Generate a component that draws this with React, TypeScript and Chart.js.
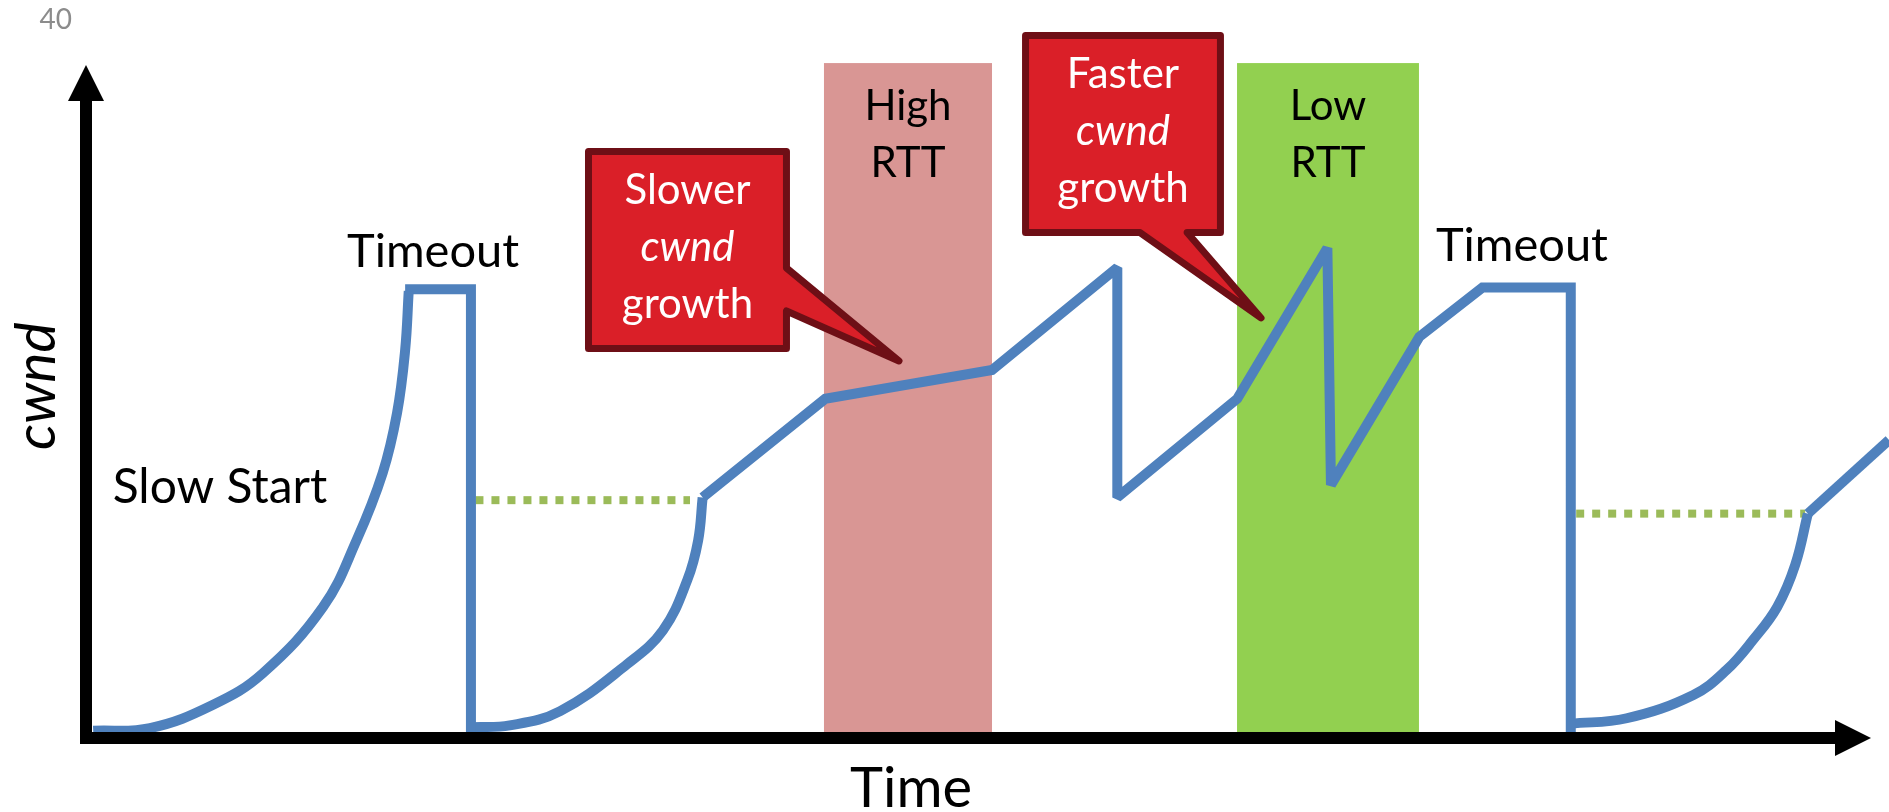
import { useEffect, useRef } from "react";
import { Chart, registerables } from "chart.js";

Chart.register(...registerables);

// ---- axes ----
const X_MAX = 100; // time (arbitrary units)
const Y_MAX = 40; // cwnd (segments)
const yTickValues = [40];

// ---- cwnd trace ----
// initial slow start, exponential ramp up to the first timeout
const slowStart1Time = [0.4, 3.55, 7.05, 9.8, 13.15, 15.0, 16.45, 17.25, 17.7, 17.9];
const slowStart1Cwnd = [0.4, 0.55, 1.85, 3.6, 7.3, 11.0, 14.75, 18.1, 21.6, 24.9];

// first timeout: window holds, then collapses
const timeout1Time = [17.7, 21.35, 21.35];
const timeout1Cwnd = [25.0, 25.0, 0];

// slow start again, up to ssthresh
const slowStart2Time = [21.35, 23.5, 26.3, 30.0, 32.0, 33.35, 33.95, 34.2];
const slowStart2Cwnd = [0.6, 0.7, 1.5, 4.1, 6.0, 8.8, 11.0, 13.4];

// congestion avoidance saw-tooth through the high / low RTT periods, ending in a second timeout
const avoid1Time = [34.2, 41.0, 50.25, 57.2, 57.2, 63.85, 68.85, 69.05, 73.95, 77.45, 82.35, 82.35];
const avoid1Cwnd = [13.4, 18.9, 20.5, 26.2, 13.4, 18.9, 27.3, 14.1, 22.35, 25.1, 25.1, 0];

// slow start after the second timeout
const slowStart3Time = [82.35, 85.45, 89.15, 91.0, 92.45, 93.8, 94.8, 95.5];
const slowStart3Cwnd = [0.8, 1.1, 2.4, 3.8, 5.45, 7.3, 9.65, 12.5];

// back into congestion avoidance
const avoid2Time = [95.5, 100];
const avoid2Cwnd = [12.5, 16.6];

// ssthresh after each timeout
const ssthresh1Time = [21.6, 33.5];
const ssthresh1Cwnd = [13.25, 13.25];
const ssthresh2Time = [82.65, 95.35];
const ssthresh2Cwnd = [12.5, 12.5];

// ---- RTT periods ----
const bandLabels = [
  ["High", "RTT"],
  ["Low", "RTT"],
];
const bandStart = [40.93, 63.84];
const bandEnd = [50.25, 73.93];
const bandTop = [37.6, 37.6];

// ---- callouts ----
const calloutLines = [
  ["Slower", "cwnd", "growth"],
  ["Faster", "cwnd", "growth"],
];

// ---- free labels ----
const noteText = ["Timeout", "Timeout", "Slow Start"];

// ======== layout / style ========
const FONT = "Lato, 'Open Sans', sans-serif";
const BLUE = "#4F81BD";
const DOTTED = "#9BBB59";
const BAND_COLORS = ["#D99694", "#92D050"];
const CALLOUT_FILL = "#DA1F28";
const CALLOUT_EDGE = "#6E0F16";

// label anchors in data units (time, cwnd) – text baseline, centred
const noteAnchors = [
  { t: 19.25, v: 26.24 },
  { t: 79.64, v: 26.57 },
  { t: 7.43, v: 13.09 },
];
const bandLabelBaselines = [34.43, 31.25];

// callout outlines in data units; the pointer leaves from the right or bottom edge
const calloutShapes = [
  { l: 27.87, r: 38.85, top: 32.67, bottom: 21.7, side: "right", w1: 26.18, w2: 23.79, tipT: 45.09, tipV: 21.0 },
  { l: 52.11, r: 62.92, top: 39.14, bottom: 28.16, side: "bottom", w1: 61.07, w2: 58.46, tipT: 65.17, tipV: 23.4 },
];

const xy = (xs: number[], ys: number[]) => xs.map((x, i) => ({ x, y: ys[i] }));

const curve = (xs: number[], ys: number[]) => ({
  data: xy(xs, ys),
  borderColor: BLUE,
  borderWidth: 10,
  tension: 0.4,
  borderCapStyle: "butt" as const,
  borderJoinStyle: "miter" as const,
  pointRadius: 0,
});

const straight = (xs: number[], ys: number[]) => ({
  data: xy(xs, ys),
  borderColor: BLUE,
  borderWidth: 10,
  tension: 0,
  borderCapStyle: "butt" as const,
  borderJoinStyle: "miter" as const,
  pointRadius: 0,
});

const dotted = (xs: number[], ys: number[]) => ({
  data: xy(xs, ys),
  borderColor: DOTTED,
  borderWidth: 8,
  borderDash: [8, 8],
  borderCapStyle: "butt" as const,
  tension: 0,
  pointRadius: 0,
});

const bandsPlugin = {
  id: "rttBands",
  beforeDatasetsDraw(chart: any) {
    const { ctx } = chart;
    const x = chart.scales.x;
    const y = chart.scales.y;
    ctx.save();
    bandStart.forEach((s, i) => {
      const x0 = x.getPixelForValue(s);
      const x1 = x.getPixelForValue(bandEnd[i]);
      const y0 = y.getPixelForValue(bandTop[i]);
      const y1 = y.getPixelForValue(0);
      ctx.fillStyle = BAND_COLORS[i];
      ctx.fillRect(x0, y0, x1 - x0, y1 - y0);
      ctx.fillStyle = "#000";
      ctx.font = `42px ${FONT}`;
      ctx.textAlign = "center";
      ctx.textBaseline = "alphabetic";
      bandLabels[i].forEach((line, k) => {
        ctx.fillText(line, (x0 + x1) / 2, y.getPixelForValue(bandLabelBaselines[k]));
      });
    });
    ctx.restore();
    // keep sharp saw-tooth peaks cut off instead of spiking
    ctx.miterLimit = 2;
  },
  afterDatasetsDraw(chart: any) {
    chart.ctx.miterLimit = 10;
  },
};

const axesPlugin = {
  id: "arrowAxes",
  afterDatasetsDraw(chart: any) {
    const { ctx, chartArea } = chart;
    const x0 = chartArea.left;
    const y0 = chart.scales.y.getPixelForValue(0);
    const half = 6;
    const head = 36;
    ctx.save();
    ctx.fillStyle = "#000";
    // vertical axis with arrow head
    const yTip = chartArea.top + 45;
    ctx.fillRect(x0 - half, yTip + head - 1, half * 2, y0 + half - (yTip + head - 1));
    ctx.beginPath();
    ctx.moveTo(x0, yTip);
    ctx.lineTo(x0 - head / 2, yTip + head);
    ctx.lineTo(x0 + head / 2, yTip + head);
    ctx.closePath();
    ctx.fill();
    // horizontal axis with arrow head
    const xTip = chartArea.right - 18;
    ctx.fillRect(x0 - half, y0 - half, xTip - head + 1 - (x0 - half), half * 2);
    ctx.beginPath();
    ctx.moveTo(xTip, y0);
    ctx.lineTo(xTip - head, y0 - head / 2);
    ctx.lineTo(xTip - head, y0 + head / 2);
    ctx.closePath();
    ctx.fill();
    ctx.restore();
  },
};

const labelsPlugin = {
  id: "notes",
  afterDraw(chart: any) {
    const { ctx, chartArea } = chart;
    const x = chart.scales.x;
    const y = chart.scales.y;
    ctx.save();

    // callouts
    calloutShapes.forEach((c, i) => {
      const L = x.getPixelForValue(c.l);
      const R = x.getPixelForValue(c.r);
      const T = y.getPixelForValue(c.top);
      const B = y.getPixelForValue(c.bottom);
      const tipX = x.getPixelForValue(c.tipT);
      const tipY = y.getPixelForValue(c.tipV);
      ctx.beginPath();
      ctx.moveTo(L, T);
      ctx.lineTo(R, T);
      if (c.side === "right") {
        ctx.lineTo(R, y.getPixelForValue(c.w1));
        ctx.lineTo(tipX, tipY);
        ctx.lineTo(R, y.getPixelForValue(c.w2));
        ctx.lineTo(R, B);
        ctx.lineTo(L, B);
      } else {
        ctx.lineTo(R, B);
        ctx.lineTo(x.getPixelForValue(c.w1), B);
        ctx.lineTo(tipX, tipY);
        ctx.lineTo(x.getPixelForValue(c.w2), B);
        ctx.lineTo(L, B);
      }
      ctx.closePath();
      ctx.fillStyle = CALLOUT_FILL;
      ctx.fill();
      ctx.lineWidth = 7;
      ctx.lineJoin = "round";
      ctx.strokeStyle = CALLOUT_EDGE;
      ctx.stroke();

      ctx.fillStyle = "#fff";
      ctx.textAlign = "center";
      ctx.textBaseline = "alphabetic";
      const cx = (L + R) / 2;
      const mid = (T + B) / 2;
      calloutLines[i].forEach((line, k) => {
        ctx.font = line === "cwnd" ? `italic 42px ${FONT}` : `42px ${FONT}`;
        ctx.fillText(line, cx, mid + 11 + (k - 1) * 57);
      });
    });

    // free labels
    ctx.fillStyle = "#000";
    ctx.textAlign = "center";
    ctx.textBaseline = "alphabetic";
    noteText.forEach((text, i) => {
      ctx.font = `${i === 2 ? 48 : 47}px ${FONT}`;
      ctx.fillText(text, x.getPixelForValue(noteAnchors[i].t), y.getPixelForValue(noteAnchors[i].v));
    });

    // axis titles
    ctx.font = `56px ${FONT}`;
    ctx.fillText("Time", x.getPixelForValue(45.76), y.getPixelForValue(0) + 69);

    ctx.translate(chartArea.left - 31, y.getPixelForValue(19.6));
    ctx.rotate(-Math.PI / 2);
    ctx.font = `italic 57px ${FONT}`;
    ctx.fillText("cwnd", 0, 0);
    ctx.restore();
  },
};

export default function App() {
  const canvasRef = useRef<HTMLCanvasElement | null>(null);

  useEffect(() => {
    const canvas = canvasRef.current;
    if (!canvas) return;
    const chart = new Chart(canvas, {
      type: "line",
      data: {
        datasets: [
          curve(slowStart1Time, slowStart1Cwnd),
          straight(timeout1Time, timeout1Cwnd),
          curve(slowStart2Time, slowStart2Cwnd),
          straight(avoid1Time, avoid1Cwnd),
          curve(slowStart3Time, slowStart3Cwnd),
          straight(avoid2Time, avoid2Cwnd),
          dotted(ssthresh1Time, ssthresh1Cwnd),
          dotted(ssthresh2Time, ssthresh2Cwnd),
        ] as any,
      },
      options: {
        responsive: false,
        animation: false,
        events: [],
        layout: { padding: { top: 20, bottom: 74, left: 0, right: 0 } },
        plugins: {
          legend: { display: false },
          tooltip: { enabled: false },
        },
        scales: {
          x: {
            type: "linear",
            min: 0,
            max: X_MAX,
            display: false,
          },
          y: {
            type: "linear",
            min: 0,
            max: Y_MAX,
            grid: { display: false, drawTicks: false },
            border: { display: false },
            afterBuildTicks: (scale: any) => {
              scale.ticks = yTickValues.map((value) => ({ value }));
            },
            afterFit: (scale: any) => {
              scale.width = 86;
              scale.paddingTop = 0;
              scale.paddingBottom = 0;
            },
            ticks: {
              padding: 14,
              color: "#8C8C8C",
              font: { family: FONT, size: 28 },
            },
          },
        },
      },
      plugins: [bandsPlugin, axesPlugin, labelsPlugin],
    });
    return () => chart.destroy();
  }, []);

  return (
    <canvas
      ref={canvasRef}
      width={1889}
      height={812}
      style={{ position: "absolute", left: 0, top: 0, display: "block", background: "#fff" }}
    />
  );
}
